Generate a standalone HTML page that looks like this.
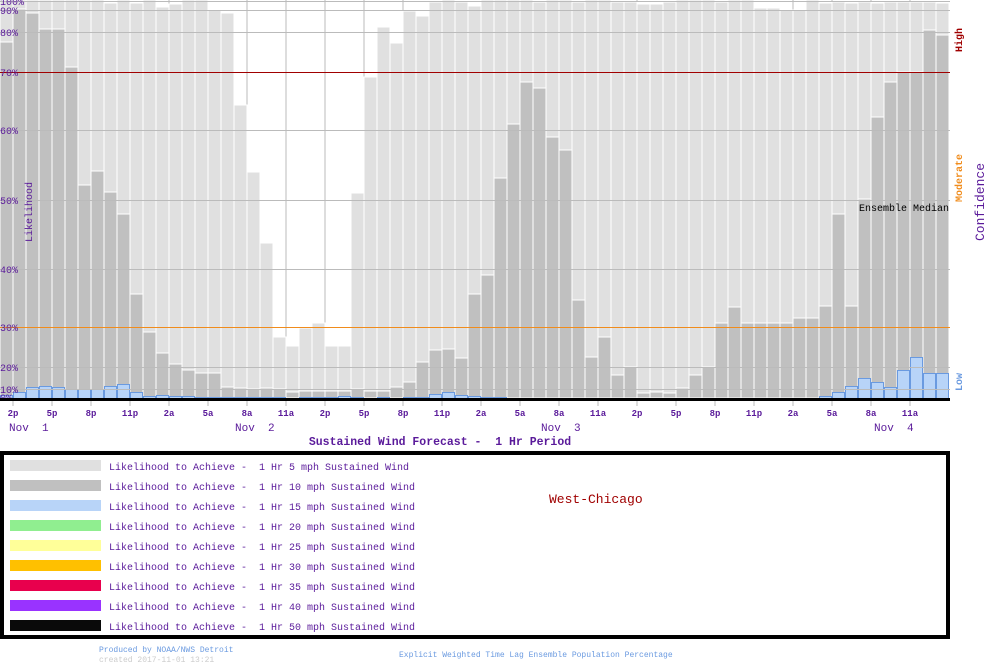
<!DOCTYPE html>
<html><head><meta charset="utf-8">
<style>
body{margin:0;background:#fff;width:1000px;height:670px;overflow:hidden;position:relative;font-family:"Liberation Mono","DejaVu Sans Mono",monospace;}
svg{position:absolute;left:0;top:0;}
</style></head>
<body>
<svg id="s" width="1000" height="670" xmlns="http://www.w3.org/2000/svg" font-family="Liberation Mono, DejaVu Sans Mono, monospace"></svg>
<script>
var L=[0,0,0,0,0,0,0,0,3,0,3,0,7,4,0,0,10,13,105,172,243,337,346,328,323,346,346,193,77,27,43,11,16,2,0,2,6,0,0,0,0,2,0,0,2,0,0,2,2,4,4,2,0,0,0,2,0,0,8,8,10,10,0,3,2,3,2,3,2,2,2,2,3];
var D=[42,9,13,29,29,67,185,171,192,214,294,332,353,364,370,373,373,387,388,389,388,389,392,391,391,391,391,389,391,391,387,382,362,350,349,358,294,275,178,124,82,88,137,150,300,357,337,375,367,393,392,393,388,375,367,323,307,323,323,323,323,318,318,306,214,306,199,117,82,72,72,30,35];
var B=[395,392,387,386,387,389,389,389,386,384,392,396,395,396,396,397,397,397,397,397,397,397,398,397,397,397,396,397,398,397,398,397,397,394,392,395,396,397,397,398,398,398,398,398,398,398,398,398,398,398,398,398,398,398,398,398,398,398,398,398,398,398,398,396,392,386,378,382,387,370,357,373,373];
var base=398,h='';
// vertical grid behind
for(var k=0;k<24;k++){var x=13+39*k;h+='<line x1="'+x+'" y1="0" x2="'+x+'" y2="398" stroke="#bbb" stroke-width="1"/>';}
for(var i=0;i<73;i++){var x=13*i;
 h+='<rect x="'+x+'" y="'+L[i]+'" width="13" height="'+(base-L[i])+'" fill="#e0e0e0" stroke="#fff" stroke-width="1"/>';}
for(var i=0;i<73;i++){var x=13*i;
 h+='<rect x="'+x+'" y="'+D[i]+'" width="13" height="'+(base-D[i])+'" fill="#c0c0c0" stroke="#fff" stroke-width="1"/>';}
for(var i=0;i<73;i++){var x=13*i; if(B[i]<398)
 h+='<rect x="'+(x+0.5)+'" y="'+(B[i]+0.5)+'" width="12" height="'+(base-B[i])+'" fill="#b8d4f8" stroke="#6a9ae0" stroke-width="1"/>';}
// horizontal grid
var G=[[1,'100%'],[10,'90%'],[32,'80%'],[72,'70%'],[130,'60%'],[200,'50%'],[269,'40%'],[327,'30%'],[367,'20%'],[389,'10%'],[397,'0%']];
G.forEach(function(g){var c='#bbb';if(g[1]=='70%')c='#a00000';if(g[1]=='30%')c='#f08c1c';
 if(g[1]!='0%')h+='<line x1="0" y1="'+(g[0]+0.5)+'" x2="950" y2="'+(g[0]+0.5)+'" stroke="'+c+'" stroke-width="1"/>';
 h+='<text x="0" y="'+(g[0]+4)+'" font-size="10" fill="#5a1a9a">'+g[1]+'</text>';});
h+='<rect x="0" y="398" width="950" height="3" fill="#000"/>';
var hl=['2p','5p','8p','11p','2a','5a','8a','11a'];
for(var k=0;k<24;k++){var x=13+39*k;
 h+='<line x1="'+x+'" y1="401" x2="'+x+'" y2="406" stroke="#bbb"/>';
 h+='<text x="'+x+'" y="416" font-size="9" font-weight="bold" text-anchor="middle" fill="#5a1a9a">'+hl[k%8]+'</text>';}
[[9,'Nov  1'],[235,'Nov  2'],[541,'Nov  3'],[874,'Nov  4']].forEach(function(d){
 h+='<text x="'+d[0]+'" y="431" font-size="11" fill="#5a1a9a" xml:space="preserve">'+d[1]+'</text>';});
h+='<text x="440" y="445" font-size="11.5" font-weight="bold" text-anchor="middle" fill="#5a1a9a" xml:space="preserve">Sustained Wind Forecast -  1 Hr Period</text>';
h+='<text transform="translate(32,242) rotate(-90)" font-size="10" fill="#5a1a9a">Likelihood</text>';
h+='<text x="859" y="211" font-size="10" fill="#000">Ensemble Median</text>';
h+='<text transform="translate(962,52) rotate(-90)" font-size="10" font-weight="bold" fill="#a00000">High</text>';
h+='<text transform="translate(962,202) rotate(-90)" font-size="10" font-weight="bold" fill="#f08c1c">Moderate</text>';
h+='<text transform="translate(962,391) rotate(-90)" font-size="10" font-weight="bold" fill="#6a9ae0">Low</text>';
h+='<text transform="translate(984,241) rotate(-90)" font-size="13" fill="#5a1a9a">Confidence</text>';
// legend
h+='<rect x="2" y="453" width="946" height="184" fill="none" stroke="#000" stroke-width="4"/>';
var lc=['#e0e0e0','#c0c0c0','#b8d4f8','#90ee90','#ffff99','#ffc000','#e8004d','#9933ff','#0a0a0a'];
var sp=['5','10','15','20','25','30','35','40','50'];
for(var j=0;j<9;j++){var y=460+20*j;
 h+='<rect x="10" y="'+y+'" width="91" height="11" fill="'+lc[j]+'"/>';
 h+='<text x="109" y="'+(y+10)+'" font-size="10" fill="#5a1a9a" xml:space="preserve">Likelihood to Achieve -  1 Hr '+sp[j]+' mph Sustained Wind</text>';}
h+='<text x="549" y="503" font-size="13" fill="#a00000">West-Chicago</text>';
h+='<text x="99" y="652" font-size="8" fill="#6a9ae0">Produced by NOAA/NWS Detroit</text>';
h+='<text x="99" y="662" font-size="8" fill="#ccc">created 2017-11-01 13:21</text>';
h+='<text x="399" y="657" font-size="8" fill="#6a9ae0">Explicit Weighted Time Lag Ensemble Population Percentage</text>';
document.getElementById('s').innerHTML=h;
</script>
</body></html>
